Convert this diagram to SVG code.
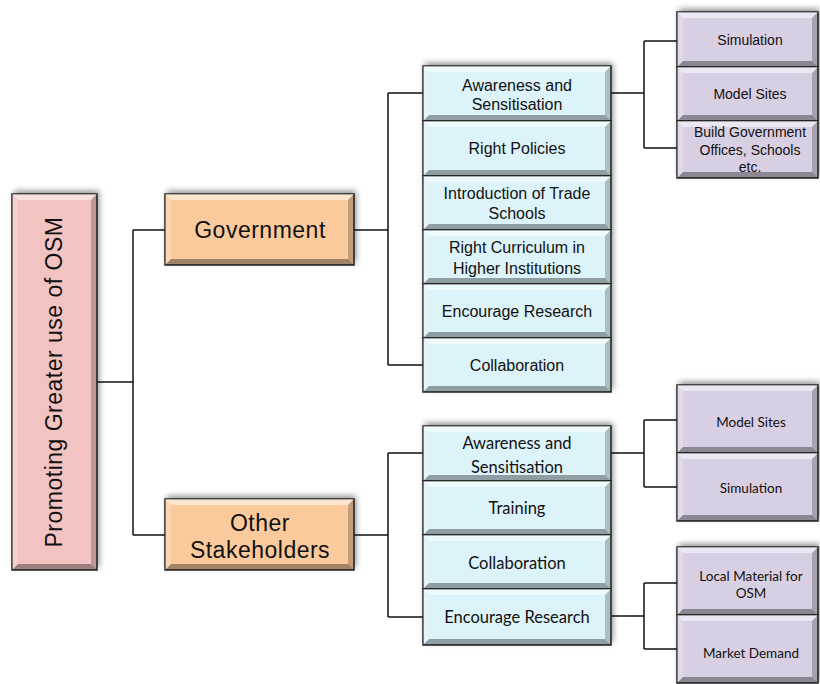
<svg xmlns="http://www.w3.org/2000/svg" width="820" height="684" viewBox="0 0 820 684">
<defs>
<filter id="blur" x="-20%" y="-20%" width="140%" height="140%"><feGaussianBlur stdDeviation="3"/></filter>
<style>
.sh{fill:#000;opacity:.45;filter:url(#blur)}
.box{stroke:#222;stroke-width:1.5}
.pink{fill:#F2C3C1}.orange{fill:#FBCA9C}.blue{fill:#DCF3F9}.purple{fill:#D9CFE3}
.bt{fill:#fff;opacity:.5}.bl{fill:#fff;opacity:.22}.br{fill:#000;opacity:.22}.bb{fill:#000;opacity:.35}
.ln{fill:none;stroke:#111;stroke-width:1.5}
text{fill:#111;text-anchor:middle}
.a23{font-family:"Liberation Sans",Arial,sans-serif;font-size:23px;letter-spacing:.5px}
.a16{font-family:"Liberation Sans",Arial,sans-serif;font-size:16px}
.a14{font-family:"Liberation Sans",Arial,sans-serif;font-size:14px}
.c16{font-family:Lato,"Open Sans",sans-serif;font-size:16.5px}
.c13{font-family:Lato,"Open Sans",sans-serif;font-size:13.5px}
</style>
</defs>
<rect width="820" height="684" fill="#fff"/>
<g id="shadows">
<rect class="sh" x="14" y="191" width="85" height="376"/>
<rect class="sh" x="167" y="191" width="189" height="71"/>
<rect class="sh" x="167" y="496" width="189" height="71"/>
<rect class="sh" x="425" y="63" width="188" height="326"/>
<rect class="sh" x="679" y="9" width="141" height="166"/>
<rect class="sh" x="425" y="423" width="188" height="219"/>
<rect class="sh" x="679" y="382" width="141" height="136"/>
<rect class="sh" x="679" y="544" width="141" height="136"/>
</g>
<g id="connectors">
<path class="ln" d="M97 382H133M133 230V535M133 230H165M133 535H165"/>
<path class="ln" d="M354 230H388M388 93V365M388 93H423M388 365H423"/>
<path class="ln" d="M611 93H644M644 41V148M644 41H677M644 148H677"/>
<path class="ln" d="M354 535H388M388 453V617M388 453H423M388 617H423"/>
<path class="ln" d="M611 453H644M644 420V487M644 420H677M644 487H677"/>
<path class="ln" d="M611 616H644M644 583V649M644 583H677M644 649H677"/>
</g>
<g id="root">
<rect class="box pink" x="12" y="194" width="85" height="376"/>
<path class="bt" d="M12 194H97l-6 6H18z"/><path class="bb" d="M12 570H97l-6-6H18z"/><path class="bl" d="M12 194l6 6V564l-6 6z"/><path class="br" d="M97 194l-6 6V564l6 6z"/>
<text class="a23" transform="translate(54 382) rotate(-90)" y="8">Promoting Greater use of OSM</text>
</g>
<g id="government">
<rect class="box orange" x="165" y="194" width="189" height="71"/>
<path class="bt" d="M165 194H354l-6 6H171z"/><path class="bb" d="M165 265H354l-6-6H171z"/><path class="bl" d="M165 194l6 6V259l-6 6z"/><path class="br" d="M354 194l-6 6V259l6 6z"/>
<text class="a23" x="260" y="238">Government</text>
</g>
<g id="other">
<rect class="box orange" x="165" y="499" width="189" height="71"/>
<path class="bt" d="M165 499H354l-6 6H171z"/><path class="bb" d="M165 570H354l-6-6H171z"/><path class="bl" d="M165 499l6 6V564l-6 6z"/><path class="br" d="M354 499l-6 6V564l6 6z"/>
<text class="a23" x="260" y="531">Other</text>
<text class="a23" x="260" y="558">Stakeholders</text>
</g>
<g id="g-awareness">
<rect class="box blue" x="423" y="66" width="188" height="55"/>
<path class="bt" d="M423 66H611l-6 6H429z"/><path class="bb" d="M423 121H611l-6-6H429z"/><path class="bl" d="M423 66l6 6V115l-6 6z"/><path class="br" d="M611 66l-6 6V115l6 6z"/>
<text class="a16" x="517" y="91">Awareness and</text>
<text class="a16" x="517" y="110">Sensitisation</text>
</g>
<g id="g-policies">
<rect class="box blue" x="423" y="121" width="188" height="55"/>
<path class="bt" d="M423 121H611l-6 6H429z"/><path class="bb" d="M423 176H611l-6-6H429z"/><path class="bl" d="M423 121l6 6V170l-6 6z"/><path class="br" d="M611 121l-6 6V170l6 6z"/>
<text class="a16" x="517" y="154">Right Policies</text>
</g>
<g id="g-trade">
<rect class="box blue" x="423" y="176" width="188" height="54"/>
<path class="bt" d="M423 176H611l-6 6H429z"/><path class="bb" d="M423 230H611l-6-6H429z"/><path class="bl" d="M423 176l6 6V224l-6 6z"/><path class="br" d="M611 176l-6 6V224l6 6z"/>
<text class="a16" x="517" y="199">Introduction of Trade</text>
<text class="a16" x="517" y="219">Schools</text>
</g>
<g id="g-curriculum">
<rect class="box blue" x="423" y="230" width="188" height="54"/>
<path class="bt" d="M423 230H611l-6 6H429z"/><path class="bb" d="M423 284H611l-6-6H429z"/><path class="bl" d="M423 230l6 6V278l-6 6z"/><path class="br" d="M611 230l-6 6V278l6 6z"/>
<text class="a16" x="517" y="253">Right Curriculum in</text>
<text class="a16" x="517" y="274">Higher Institutions</text>
</g>
<g id="g-research">
<rect class="box blue" x="423" y="284" width="188" height="54"/>
<path class="bt" d="M423 284H611l-6 6H429z"/><path class="bb" d="M423 338H611l-6-6H429z"/><path class="bl" d="M423 284l6 6V332l-6 6z"/><path class="br" d="M611 284l-6 6V332l6 6z"/>
<text class="a16" x="517" y="317">Encourage Research</text>
</g>
<g id="g-collaboration">
<rect class="box blue" x="423" y="338" width="188" height="54"/>
<path class="bt" d="M423 338H611l-6 6H429z"/><path class="bb" d="M423 392H611l-6-6H429z"/><path class="bl" d="M423 338l6 6V386l-6 6z"/><path class="br" d="M611 338l-6 6V386l6 6z"/>
<text class="a16" x="517" y="371">Collaboration</text>
</g>
<g id="g-simulation">
<rect class="box purple" x="677" y="12" width="141" height="55"/>
<path class="bt" d="M677 12H818l-6 6H683z"/><path class="bb" d="M677 67H818l-6-6H683z"/><path class="bl" d="M677 12l6 6V61l-6 6z"/><path class="br" d="M818 12l-6 6V61l6 6z"/>
<text class="a14" x="750" y="45">Simulation</text>
</g>
<g id="g-modelsites">
<rect class="box purple" x="677" y="67" width="141" height="54"/>
<path class="bt" d="M677 67H818l-6 6H683z"/><path class="bb" d="M677 121H818l-6-6H683z"/><path class="bl" d="M677 67l6 6V115l-6 6z"/><path class="br" d="M818 67l-6 6V115l6 6z"/>
<text class="a14" x="750" y="99">Model Sites</text>
</g>
<g id="g-build">
<rect class="box purple" x="677" y="121" width="141" height="57"/>
<path class="bt" d="M677 121H818l-6 6H683z"/><path class="bb" d="M677 178H818l-6-6H683z"/><path class="bl" d="M677 121l6 6V172l-6 6z"/><path class="br" d="M818 121l-6 6V172l6 6z"/>
<text class="a14" x="750" y="137">Build Government</text>
<text class="a14" x="750" y="155">Offices, Schools</text>
<text class="a14" x="750" y="172">etc.</text>
</g>
<g id="o-awareness">
<rect class="box blue" x="423" y="426" width="188" height="55"/>
<path class="bt" d="M423 426H611l-6 6H429z"/><path class="bb" d="M423 481H611l-6-6H429z"/><path class="bl" d="M423 426l6 6V475l-6 6z"/><path class="br" d="M611 426l-6 6V475l6 6z"/>
<text class="c16" x="517" y="449">Awareness and</text>
<text class="c16" x="517" y="473">Sensitisation</text>
</g>
<g id="o-training">
<rect class="box blue" x="423" y="481" width="188" height="54"/>
<path class="bt" d="M423 481H611l-6 6H429z"/><path class="bb" d="M423 535H611l-6-6H429z"/><path class="bl" d="M423 481l6 6V529l-6 6z"/><path class="br" d="M611 481l-6 6V529l6 6z"/>
<text class="c16" x="517" y="514">Training</text>
</g>
<g id="o-collaboration">
<rect class="box blue" x="423" y="535" width="188" height="54"/>
<path class="bt" d="M423 535H611l-6 6H429z"/><path class="bb" d="M423 589H611l-6-6H429z"/><path class="bl" d="M423 535l6 6V583l-6 6z"/><path class="br" d="M611 535l-6 6V583l6 6z"/>
<text class="c16" x="517" y="569">Collaboration</text>
</g>
<g id="o-research">
<rect class="box blue" x="423" y="589" width="188" height="56"/>
<path class="bt" d="M423 589H611l-6 6H429z"/><path class="bb" d="M423 645H611l-6-6H429z"/><path class="bl" d="M423 589l6 6V639l-6 6z"/><path class="br" d="M611 589l-6 6V639l6 6z"/>
<text class="c16" x="517" y="623">Encourage Research</text>
</g>
<g id="o-modelsites">
<rect class="box purple" x="677" y="385" width="141" height="68"/>
<path class="bt" d="M677 385H818l-6 6H683z"/><path class="bb" d="M677 453H818l-6-6H683z"/><path class="bl" d="M677 385l6 6V447l-6 6z"/><path class="br" d="M818 385l-6 6V447l6 6z"/>
<text class="c13" x="751" y="427">Model Sites</text>
</g>
<g id="o-simulation">
<rect class="box purple" x="677" y="453" width="141" height="68"/>
<path class="bt" d="M677 453H818l-6 6H683z"/><path class="bb" d="M677 521H818l-6-6H683z"/><path class="bl" d="M677 453l6 6V515l-6 6z"/><path class="br" d="M818 453l-6 6V515l6 6z"/>
<text class="c13" x="751" y="493">Simulation</text>
</g>
<g id="o-local">
<rect class="box purple" x="677" y="547" width="141" height="68"/>
<path class="bt" d="M677 547H818l-6 6H683z"/><path class="bb" d="M677 615H818l-6-6H683z"/><path class="bl" d="M677 547l6 6V609l-6 6z"/><path class="br" d="M818 547l-6 6V609l6 6z"/>
<text class="c13" x="751" y="581">Local Material for</text>
<text class="c13" x="751" y="598">OSM</text>
</g>
<g id="o-market">
<rect class="box purple" x="677" y="615" width="141" height="68"/>
<path class="bt" d="M677 615H818l-6 6H683z"/><path class="bb" d="M677 683H818l-6-6H683z"/><path class="bl" d="M677 615l6 6V677l-6 6z"/><path class="br" d="M818 615l-6 6V677l6 6z"/>
<text class="c13" x="751" y="658">Market Demand</text>
</g>
</svg>
